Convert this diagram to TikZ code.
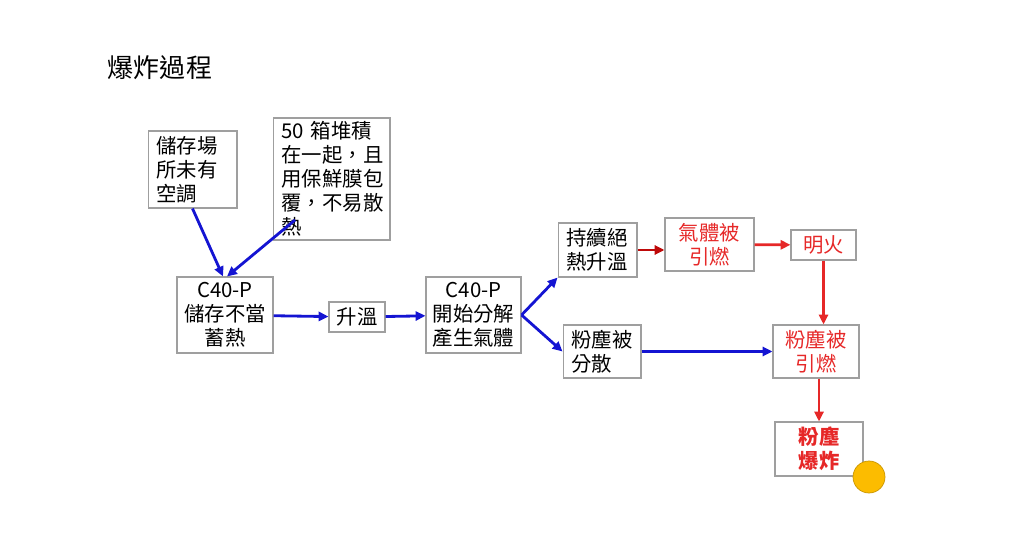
\documentclass[tikz,border=0pt]{standalone}
\usepackage{fontspec}
\setmainfont{Noto Sans CJK TC}
\usetikzlibrary{arrows.meta}
\definecolor{flowblue}{RGB}{20,20,210}
\definecolor{firered}{RGB}{230,40,40}
\definecolor{darkfire}{RGB}{190,10,10}
\definecolor{sunorange}{RGB}{252,188,0}
\begin{document}
\begin{tikzpicture}[x=0.025cm, y=-0.025cm, every node/.style={font=\fontsize{14.5}{17}\selectfont},
  box/.style={draw=gray!75, line width=0.8pt, inner sep=2pt, align=center},
  lbox/.style={box, align=left, inner xsep=6pt},
  flow/.style={-{Triangle[length=7pt,width=6.5pt]}, line width=2pt, flowblue},
  fire/.style={-{Triangle[length=7pt,width=6.5pt]}, line width=2pt, firered}]
\useasboundingbox (0,0) rectangle (1024,543);
\node[anchor=west, font=\fontsize{18.5}{20}\selectfont] (title) at (103,68) {爆炸過程};
\node[lbox, minimum height=77*0.025cm, text width=72*0.025cm] (noac) at (192.5,169.5) {儲存場\\所未有\\空調};
\node[lbox, minimum height=122*0.025cm, text width=100*0.025cm] (pack) at (331.5,179) {50 箱堆積\\在一起，且\\用保鮮膜包\\覆，不易散\\熱};
\node[box, minimum width=96*0.025cm, minimum height=76*0.025cm] (store) at (225,315) {C40-P\\儲存不當\\蓄熱};
\node[box, minimum width=56*0.025cm, minimum height=30*0.025cm] (heat) at (357,317) {升溫};
\node[box, minimum width=95*0.025cm, minimum height=76*0.025cm] (decomp) at (473.5,315) {C40-P\\開始分解\\產生氣體};
\node[lbox, minimum height=54*0.025cm, text width=62*0.025cm] (adiab) at (597.5,250) {持續絕\\熱升溫};
\node[box, text=firered, minimum width=89*0.025cm, minimum height=53*0.025cm] (gasig) at (709.5,244.5) {氣體被\\引燃};
\node[box, text=firered, minimum width=65*0.025cm, minimum height=30*0.025cm] (flame) at (823.5,245) {明火};
\node[lbox, minimum height=53*0.025cm, text width=61*0.025cm] (disp) at (602,351.5) {粉塵被\\分散};
\node[box, text=firered, minimum width=86*0.025cm, minimum height=53*0.025cm] (dustig) at (816,351.5) {粉塵被\\引燃};
\node[box, text=firered, font=\fontsize{14.5}{17}\selectfont\bfseries, minimum width=88*0.025cm, minimum height=54*0.025cm] (boom) at (819,449) {粉塵\\爆炸};
\node[circle, fill=sunorange, draw=sunorange!80!black, line width=0.5pt, minimum size=32*0.025cm, inner sep=0pt] (sun) at (869,477) {};
\coordinate (packend) at (295,220);
% causes
\draw[flow] (noac.south) -- ([xshift=-2*0.025cm]store.north);
\draw[flow] (packend) -- ([xshift=2*0.025cm]store.north);
% main line
\draw[flow] (store) -- (heat);
\draw[flow] (heat) -- (decomp);
\draw[flow] (decomp.east) -- (adiab.south west);
\draw[flow] (decomp.east) -- (disp.west);
\draw[flow] (disp) -- (dustig);
% ignition
\draw[fire, darkfire] (adiab.east) -- (gasig.west |- adiab.east);
\draw[fire] (gasig) -- (flame);
\draw[fire] (flame) -- (flame |- dustig.north);
\draw[fire] ([xshift=3*0.025cm]dustig.south) -- (boom.north);
\end{tikzpicture}
\end{document}
